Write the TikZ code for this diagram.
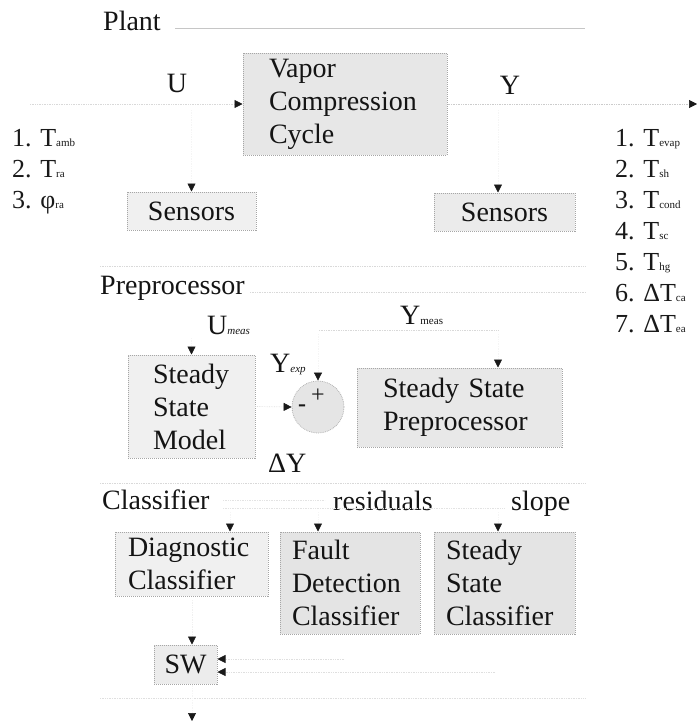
\documentclass[tikz,border=0pt]{standalone}
\usepackage{fontspec}
\setmainfont{Liberation Serif}
\usetikzlibrary{arrows.meta}
\newcommand\sbs[1]{{\fontsize{11}{11}\selectfont #1}}
\newcommand\sbi[1]{{\fontsize{11}{11}\selectfont\itshape #1}}
\begin{document}
\begin{tikzpicture}[x=1pt,y=-1pt,
  lbl/.style={font=\fontsize{28}{33}\selectfont, text=black!92, inner sep=0pt},
  lst/.style={font=\fontsize{26}{31}\selectfont, text=black!90, inner sep=0pt, anchor=base west},
  blk/.style={draw=gray!70, densely dotted, line width=1pt, fill=gray!19,
    font=\fontsize{28}{33}\selectfont, text=black!92, align=left, inner ysep=0pt},
  lightblk/.style={blk, fill=gray!12},
  sep/.style={draw=gray!30, line width=0.7pt, densely dotted},
  conn/.style={draw=gray!14, line width=0.7pt, densely dotted,
    -{Triangle[color=black!90,length=8pt,width=8pt]}}
]
\useasboundingbox (0,0) rectangle (700,723);

% ---------- Plant ----------
\node[lbl, anchor=base west] (plant) at (103,30) {Plant};
\draw[draw=gray!45, line width=0.8pt] (175,28) -- (585,28);
\node[lbl, anchor=base] (ulbl) at (177,92) {U};
\node[lbl, anchor=base] (ylbl) at (510,94) {Y};

\node[blk, minimum height=102, text width=152, inner xsep=26] (vcc) at (345,104)
  {Vapor\\Compression\\Cycle};

\coordinate (uin) at (30,104);
\coordinate (yout) at (697,104);
\draw[conn, draw=gray!30] (uin) -- (vcc.west);
\draw[conn, draw=gray!40] (vcc.east) -- (yout);

% input list
\node[lst] (i1) at (12,146) {1. T\sbs{amb}};
\node[lst] (i2) at (12,177) {2. T\sbs{ra}};
\node[lst] (i3) at (12,208) {3. φ\sbs{ra}};

% output list
\node[lst] (o1) at (615,146) {1. T\sbs{evap}};
\node[lst] (o2) at (615,177) {2. T\sbs{sh}};
\node[lst] (o3) at (615,208) {3. T\sbs{cond}};
\node[lst] (o4) at (615,239) {4. T\sbs{sc}};
\node[lst] (o5) at (615,270) {5. T\sbs{hg}};
\node[lst] (o6) at (615,301) {6. ΔT\sbs{ca}};
\node[lst] (o7) at (615,332) {7. ΔT\sbs{ea}};

% sensors
\node[lightblk, minimum width=129, minimum height=38, align=center] (sL) at (191.5,211) {Sensors};
\node[blk, minimum width=141, minimum height=38, align=center, fill=gray!16] (sR) at (504.5,212) {Sensors};
\coordinate (sLtop) at (191.5,110);
\coordinate (sRtop) at (498,110);
\draw[conn, draw=gray!8] (sLtop) -- (sL.north);
\draw[conn, draw=gray!8] (sRtop) -- (sRtop |- sR.north);

% ---------- Preprocessor ----------
\draw[sep] (100,266) -- (585,266);
\node[lbl, anchor=base west] (prep) at (100,294) {Preprocessor};
\draw[sep] (250,292) -- (585,292);

\node[lbl, anchor=base west] (umeas) at (207,334) {U\sbi{meas}};
\node[lbl, anchor=base west] (ymeas) at (400,324) {Y\sbs{meas}};
\draw[sep] (319,330) -- (498,330);

\node[lightblk, minimum width=127, minimum height=103, text width=77, inner xsep=25] (model) at (191.5,406.5)
  {Steady\\State\\Model};
\coordinate (um) at (191.5,338);
\draw[conn, draw=gray!8] (um) -- (model.north);

\node[lbl, anchor=base west] (yexp) at (270,372) {Y\sbi{exp}};
\node[circle, minimum size=52, inner sep=0pt, fill=gray!20, draw=gray!60, densely dotted, line width=0.8pt] (sum) at (318,407) {};
\node[font=\fontsize{24}{24}\selectfont, text=black!90, inner sep=0pt] (plus) at (318,396) {+};
\node[font=\fontsize{24}{24}\selectfont\bfseries, text=black!90, inner sep=0pt] (minus) at (302,408) {-};
\coordinate (ymc) at (318,334);
\draw[conn, draw=gray!8] (ymc) -- (sum.north);
\draw[conn, draw=gray!25] (model.east) -- (sum.west);
\node[lbl, anchor=base west] (dy) at (268,472) {ΔY};

\node[blk, minimum height=79, text width=153, inner xsep=26, fill=gray!18] (ssp) at (459.5,407.5)
  {Steady State\\Preprocessor};
\coordinate (ym2) at (498,334);
\draw[conn, draw=gray!8] (ym2) -- (ym2 |- ssp.north);

% ---------- Classifier ----------
\draw[sep] (100,483) -- (585,483);
\node[lbl, anchor=base west] (clas) at (102,509) {Classifier};
\node[lbl, anchor=base west] (resid) at (333,510) {residuals};
\node[lbl, anchor=base west] (slope) at (511,510) {slope};
\draw[sep, draw=gray!22] (223,500) -- (325,500);
\draw[sep, draw=gray!22] (223,508) -- (505,508);

\node[lightblk, minimum height=64, text width=127, inner xsep=13] (diag) at (191.5,564)
  {Diagnostic\\Classifier};
\node[blk, minimum height=102, text width=116, inner xsep=12, fill=gray!21] (fdc) at (350,583)
  {Fault\\Detection\\Classifier};
\node[blk, minimum height=102, text width=117, inner xsep=12, fill=gray!21] (ssc) at (504.5,583)
  {Steady\\State\\Classifier};

\coordinate (c1) at (230,512);
\coordinate (c2) at (318,512);
\coordinate (c3) at (498,512);
\draw[conn, draw=gray!8] (c1) -- (c1 |- diag.north);
\draw[conn, draw=gray!8] (c2) -- (c2 |- fdc.north);
\draw[conn, draw=gray!8] (c3) -- (c3 |- ssc.north);

\node[lightblk, minimum width=63, minimum height=39, align=center, fill=gray!15] (sw) at (185.5,664.5) {SW};
\coordinate (swin) at (192,600);
\draw[conn, draw=gray!12] (swin) -- (swin |- sw.north);
\coordinate (f1) at (344,659);
\coordinate (f2) at (495,672);
\draw[conn, draw=gray!25] (f1) -- (f1 -| sw.east);
\draw[conn, draw=gray!25] (f2) -- (f2 -| sw.east);

\draw[sep, draw=gray!25] (100,698) -- (585,698);
\coordinate (out) at (192,721);
\draw[conn, draw=gray!8] (out |- sw.south) -- (out);
\end{tikzpicture}
\end{document}
